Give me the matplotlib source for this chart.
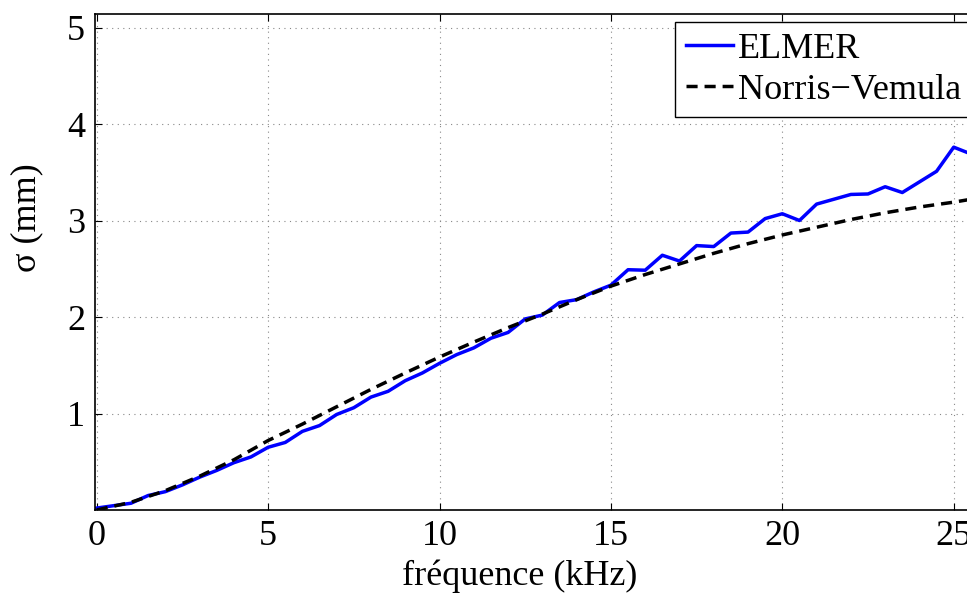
import numpy as np
import matplotlib
matplotlib.use("Agg")
import matplotlib.pyplot as plt

plt.rcParams['font.family'] = ['Liberation Serif', 'DejaVu Serif']

# ELMER simulation (pas de 0.5 kHz)
f_elmer = np.arange(0, 26, 0.5)
sigma_elmer = [0.02, 0.045, 0.07, 0.15, 0.19, 0.26, 0.34, 0.41, 0.49, 0.55,
               0.65, 0.70, 0.815, 0.875, 0.99, 1.06, 1.17, 1.23, 1.34, 1.42,
               1.52, 1.61, 1.68, 1.78, 1.84, 1.98, 2.02, 2.15, 2.18, 2.26,
               2.33, 2.49, 2.485, 2.64, 2.58, 2.74, 2.73, 2.87, 2.88, 3.02,
               3.07, 3.00, 3.17, 3.22, 3.27, 3.275, 3.35, 3.29, 3.40, 3.51,
               3.76, 3.69]

# Norris-Vemula
f_nv = [0, 1, 2, 3, 4, 5, 6, 7, 8, 9, 10, 11, 12, 13, 14, 15, 16, 17, 18,
        19, 20, 21, 22, 23, 24, 25, 26]
sigma_nv = [0.0, 0.08, 0.2, 0.35, 0.52, 0.72, 0.89, 1.07, 1.25, 1.42, 1.585,
            1.74, 1.89, 2.03, 2.18, 2.32, 2.44, 2.55, 2.66, 2.76, 2.85, 2.93,
            3.01, 3.08, 3.14, 3.19, 3.25]

xticks = [0, 5, 10, 15, 20, 25]
yticks = [1, 2, 3, 4, 5]

fig = plt.figure(figsize=(9.67, 5.93), dpi=100)
ax = fig.add_axes([95 / 967, 1 - 510 / 593, 893 / 967, 496 / 593])

ax.plot(f_elmer, sigma_elmer, color='#0000ff', lw=2.5, label='ELMER')
ax.plot(f_nv, sigma_nv, color='black', lw=2.5, dashes=(3.2, 2.0),
        label='Norris\u2212Vemula')

ax.set_xlim(-0.05, 26)
ax.set_ylim(0, 5.14)
ax.set_xticks(xticks)
ax.set_yticks(yticks)
ax.tick_params(direction='in', length=5, width=0.8, top=True, right=True,
               labelsize=26, pad=7)
ax.grid(True, linestyle=(0, (1, 4)), color='#888888', lw=0.8)
for s in ax.spines.values():
    s.set_linewidth(1.2)

ax.set_xlabel('fréquence (kHz)', fontsize=26)
ax.xaxis.set_label_coords(0.476, -0.1)
ax.set_ylabel('σ (mm)', fontsize=26)
ax.yaxis.set_label_coords(-0.058, 0.59)

leg = ax.legend(loc='upper left', bbox_to_anchor=(675 / 967, 1 - 22 / 593),
                bbox_transform=fig.transFigure, fontsize=26, frameon=True,
                fancybox=False, edgecolor='black', framealpha=1,
                handlelength=1.3, handletextpad=0.15, borderpad=0.3,
                labelspacing=0.2, borderaxespad=0)
leg.get_frame().set_linewidth(1.0)

fig.savefig('out.png', dpi=100)
